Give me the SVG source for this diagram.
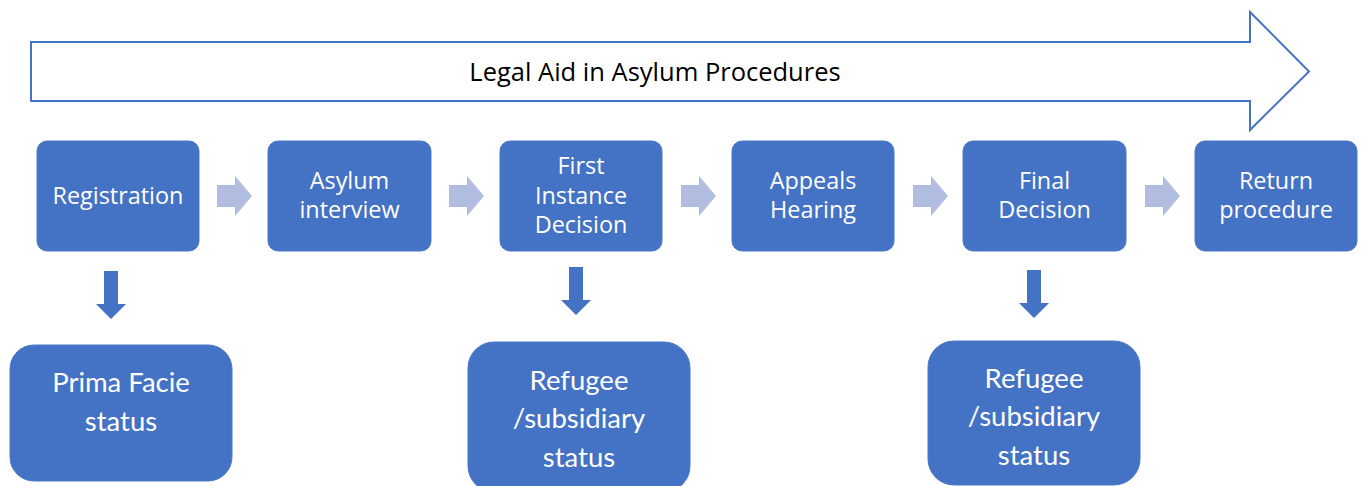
<svg xmlns="http://www.w3.org/2000/svg" width="1364" height="486" viewBox="0 0 1364 486">
<defs>
<style>
.box{fill:#4472C4;stroke:#4A78C8;stroke-width:1}
.t{font-family:"Open Sans","Noto Sans","Liberation Sans",sans-serif;fill:#FFFFFF;text-anchor:middle;font-size:23.4px}
.tb{font-family:Lato,"Open Sans","Liberation Sans",sans-serif;fill:#FFFFFF;text-anchor:middle;font-size:27.5px}
.ga{fill:#B0BDE0}
.da{fill:#4472C4}
</style>
<path id="gar" d="M0,9 H18 V0 L35,20 L18,40 V31 H0 Z"/>
<path id="dar" d="M-7,0 H7 V33 H15 L0,48 L-15,33 H-7 Z"/>
</defs>
<rect width="1364" height="486" fill="#FFFFFF"/>
<g id="banner">
<path d="M31,42 H1250 V12 L1309,71.5 L1250,130 V101 H31 Z" fill="#FFFFFF" stroke="#4472C4" stroke-width="2"/>
<text x="655" y="80.5" font-family="'Open Sans','Noto Sans','Liberation Sans',sans-serif" font-size="25.5" fill="#000000" text-anchor="middle">Legal Aid in Asylum Procedures</text>
</g>
<g id="connectors">
<use href="#gar" class="ga" x="217" y="176"/>
<use href="#gar" class="ga" x="449" y="176"/>
<use href="#gar" class="ga" x="681" y="176"/>
<use href="#gar" class="ga" x="913" y="176"/>
<use href="#gar" class="ga" x="1145" y="176"/>
<use href="#dar" class="da" x="111" y="271"/>
<use href="#dar" class="da" x="576" y="267"/>
<use href="#dar" class="da" x="1034" y="270"/>
</g>
<g id="registration">
<rect class="box" x="37" y="141" width="162" height="110" rx="10"/>
<text class="t" x="118" y="204">Registration</text>
</g>
<g id="asylum-interview">
<rect class="box" x="268" y="141" width="163" height="110" rx="10"/>
<text class="t" x="349.5" y="189">Asylum</text>
<text class="t" x="349.5" y="218">interview</text>
</g>
<g id="first-instance">
<rect class="box" x="500" y="141" width="162" height="110" rx="10"/>
<text class="t" x="581" y="174">First</text>
<text class="t" x="581" y="204">Instance</text>
<text class="t" x="581" y="233">Decision</text>
</g>
<g id="appeals-hearing">
<rect class="box" x="732" y="141" width="162" height="110" rx="10"/>
<text class="t" x="813" y="189">Appeals</text>
<text class="t" x="813" y="218">Hearing</text>
</g>
<g id="final-decision">
<rect class="box" x="963" y="141" width="163" height="110" rx="10"/>
<text class="t" x="1044.5" y="189">Final</text>
<text class="t" x="1044.5" y="218">Decision</text>
</g>
<g id="return-procedure">
<rect class="box" x="1195" y="141" width="162" height="110" rx="10"/>
<text class="t" x="1276" y="189">Return</text>
<text class="t" x="1276" y="218">procedure</text>
</g>
<g id="prima-facie">
<rect class="box" x="10" y="345" width="222" height="136" rx="24"/>
<text class="tb" x="121" y="392">Prima Facie</text>
<text class="tb" x="121" y="431">status</text>
</g>
<g id="refugee-1">
<rect class="box" x="468" y="342" width="222" height="150" rx="26"/>
<text class="tb" x="579" y="390">Refugee</text>
<text class="tb" x="579" y="428">/subsidiary</text>
<text class="tb" x="579" y="467">status</text>
</g>
<g id="refugee-2">
<rect class="box" x="928" y="341" width="212" height="144" rx="26"/>
<text class="tb" x="1034" y="388">Refugee</text>
<text class="tb" x="1034" y="426">/subsidiary</text>
<text class="tb" x="1034" y="465">status</text>
</g>
</svg>
